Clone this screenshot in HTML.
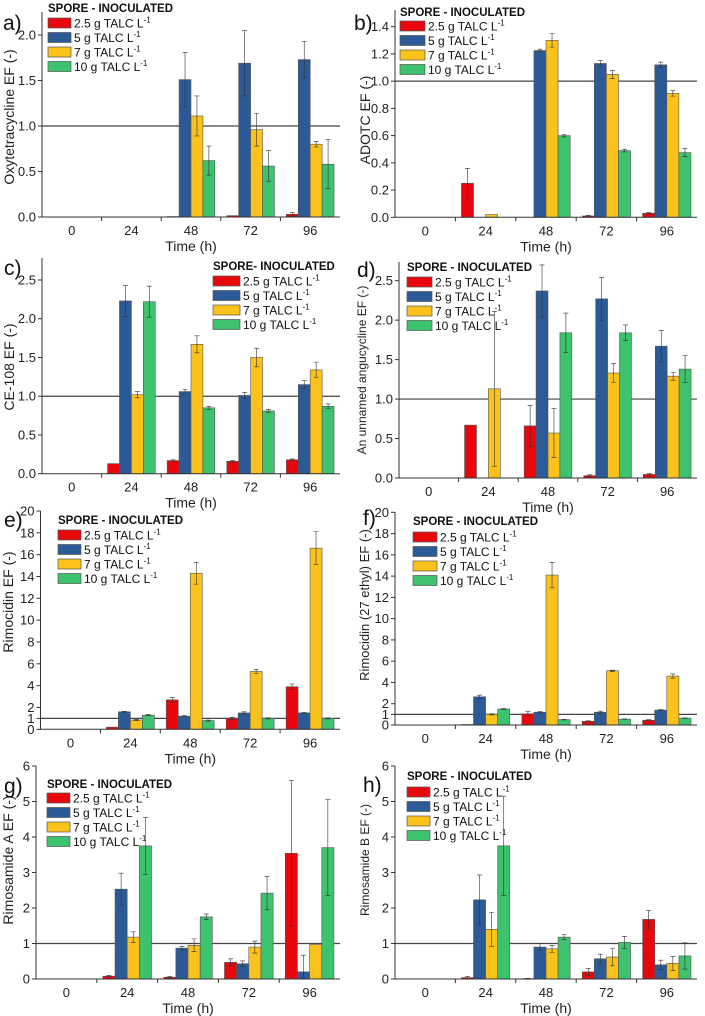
<!DOCTYPE html>
<html><head><meta charset="utf-8"><style>
html,body{margin:0;padding:0;background:#fff;}
svg{display:block;font-family:"Liberation Sans",Arial,sans-serif;}
</style></head><body>
<svg id="fig" width="705" height="1016" viewBox="0 0 705 1016" xmlns="http://www.w3.org/2000/svg"></svg>
<script>
const categories = ["0","24","48","72","96"];
const seriesNames = ["2.5 g TALC L","5 g TALC L","7 g TALC L","10 g TALC L"];
const colors = ["#e8070d","#2c5a96","#fbc21c","#3dc26d"];
// panel a
const aRed=[0,0,0.005,0.015,0.03], aBlue=[0,0,1.51,1.69,1.73], aYel=[0,0,1.11,0.96,0.80], aGrn=[0,0,0.62,0.56,0.58];
const aErr=[[0,0,0,0,0.02],[0,0,0.3,0.36,0.2],[0,0,0.22,0.18,0.03],[0,0,0.16,0.17,0.27]];
// panel b
const bRed=[0,0.25,0,0.01,0.03], bBlue=[0,0,1.225,1.13,1.12], bYel=[0,0.02,1.30,1.05,0.91], bGrn=[0,0,0.60,0.49,0.475];
const bErr=[[0,0.11,0,0.005,0.005],[0,0,0.01,0.02,0.02],[0,0,0.05,0.03,0.02],[0,0,0.01,0.01,0.03]];
// panel c
const cRed=[0,0.13,0.17,0.16,0.18], cBlue=[0,2.23,1.06,1.01,1.15], cYel=[0,1.02,1.67,1.50,1.34], cGrn=[0,2.22,0.85,0.81,0.87];
const cErr=[[0,0,0.01,0.01,0.01],[0,0.2,0.03,0.04,0.05],[0,0.04,0.11,0.12,0.1],[0,0.2,0.02,0.02,0.03]];
// panel d
const dRed=[0,0.67,0.66,0.03,0.045], dBlue=[0,0,2.37,2.27,1.67], dYel=[0,1.13,0.57,1.33,1.29], dGrn=[0,0,1.84,1.84,1.38];
const dErr=[[0,0,0.26,0.01,0.01],[0,0,0.33,0.27,0.2],[0,0.98,0.31,0.12,0.05],[0,0,0.25,0.1,0.17]];
// panel e
const eRed=[0,0.2,2.7,1.0,3.9], eBlue=[0,1.6,1.2,1.5,1.5], eYel=[0,0.85,14.3,5.3,16.6], eGrn=[0,1.3,0.8,1.0,1.0];
const eErr=[[0,0,0.2,0.1,0.25],[0,0.05,0.05,0.1,0.05],[0,0.05,1.0,0.2,1.5],[0,0.05,0.05,0.05,0.05]];
// panel f
const fRed=[0,0.05,1.05,0.35,0.45], fBlue=[0,2.65,1.2,1.2,1.4], fYel=[0,1.0,14.1,5.1,4.6], fGrn=[0,1.5,0.5,0.55,0.65];
const fErr=[[0,0,0.2,0.05,0.05],[0,0.15,0.05,0.1,0.05],[0,0.05,1.2,0.05,0.2],[0,0.05,0.02,0.02,0.02]];
// panel g
const gRed=[0,0.08,0.05,0.47,3.54], gBlue=[0,2.53,0.87,0.43,0.2], gYel=[0,1.18,0.95,0.90,0.97], gGrn=[0,3.75,1.75,2.42,3.70];
const gErr=[[0,0.02,0.02,0.1,2.05],[0,0.45,0.05,0.08,0.47],[0,0.15,0.18,0.17,0],[0,0.8,0.08,0.47,1.35]];
// panel h
const hRed=[0,0.04,0.01,0.2,1.68], hBlue=[0,2.23,0.9,0.57,0.4], hYel=[0,1.4,0.85,0.62,0.44], hGrn=[0,3.75,1.18,1.03,0.65];
const hErr=[[0,0.03,0.01,0.1,0.25],[0,0.7,0.1,0.13,0.13],[0,0.48,0.1,0.25,0.2],[0,1.4,0.07,0.17,0.37]];
// tick labels
const ticksA=[0,0.5,1.0,1.5,2.0], ticksB=[0,0.2,0.4,0.6,0.8,1.0,1.2,1.4], ticksCD=[0,0.5,1.0,1.5,2.0,2.5];
const ticksEF=[0,1,2,4,6,8,10,12,14,16,18,20], ticksGH=[0,1,2,3,4,5,6];

const NS="http://www.w3.org/2000/svg";
const svg=document.getElementById('fig');
function mk(tag,attrs,parent,text){const e=document.createElementNS(NS,tag);for(const k in attrs)e.setAttribute(k,attrs[k]);if(text!==undefined)e.textContent=text;(parent||svg).appendChild(e);return e;}

const panels=[
 {id:'a',L:42,R:340,B:217,T:12,vmax:2.0,ytop:35,ticks:ticksA,dec:1,data:[aRed,aBlue,aYel,aGrn],err:aErr,title:'Oxytetracycline EF (-)',tx:14,ty:117,ts:14,lab:[3,30],leg:[48,8,18,74]},
 {id:'b',L:395,R:697,B:217.3,T:10,vmax:1.4,ytop:26.7,ticks:ticksB,dec:1,data:[bRed,bBlue,bYel,bGrn],err:bErr,title:'ADOTC EF (-)',tx:370,ty:120,ts:14,lab:[354,30],leg:[400,12,21,428]},
 {id:'c',L:42,R:340,B:473.7,T:258,vmax:2.5,ytop:280,ticks:ticksCD,dec:1,data:[cRed,cBlue,cYel,cGrn],err:cErr,title:'CE-108 EF (-)',tx:14,ty:367,ts:14,lab:[4,275],leg:[213,266,276,243],legTitle:'SPORE- INOCULATED'},
 {id:'d',L:399,R:697,B:478,T:262,vmax:2.5,ytop:280.7,ticks:ticksCD,dec:1,data:[dRed,dBlue,dYel,dGrn],err:dErr,title:'An unnamed angucycline EF (-)',tx:366,ty:370,ts:12,lab:[357,277],leg:[407,267,277,435],legTitle:'SPORE  -  INOCULATED'},
 {id:'e',L:40.5,R:340,B:729.3,T:511,vmax:20,ytop:511,ticks:ticksEF,dec:0,data:[eRed,eBlue,eYel,eGrn],err:eErr,title:'Rimocidin EF (-)',tx:13,ty:602,ts:14,lab:[4,527],leg:[58,520,530,84]},
 {id:'f',L:395,R:697,B:725,T:512,vmax:20,ytop:512.3,ticks:ticksEF,dec:0,data:[fRed,fBlue,fYel,fGrn],err:fErr,title:'Rimocidin (27 ethyl) EF (-)',tx:369,ty:605,ts:13,lab:[363,525],leg:[413,521,532,440]},
 {id:'g',L:36,R:340,B:979,T:766,vmax:6,ytop:766,ticks:ticksGH,dec:0,data:[gRed,gBlue,gYel,gGrn],err:gErr,title:'Rimosamide A EF (-)',tx:13,ty:860,ts:14,lab:[4,793],leg:[47,784,793,73]},
 {id:'h',L:395,R:697,B:979,T:766,vmax:6,ytop:766,ticks:ticksGH,dec:0,data:[hRed,hBlue,hYel,hGrn],err:hErr,title:'Rimosamide B EF (-)',tx:369,ty:860,ts:12,lab:[363,792],leg:[407,776,787,433]}
];

panels.forEach(p=>{
 const g=mk('g',{});
 
 
 const unit=(p.B-p.ytop)/p.vmax;
 const y=v=>p.B-v*unit;
 const step=(p.R-p.L)/categories.length;
 const xc=i=>p.L+step*(i+0.5);
 const bw=step*0.2;
 const ref=mk('line',{x1:p.L,x2:p.R,y1:y(1),y2:y(1),stroke:'#444','stroke-width':1.2},g);
 
 
 p.data.forEach((ser,s)=>{
  ser.forEach((v,i)=>{
   if(v<=0)return;
   const x=xc(i)-2*bw+s*bw;
   const r=mk('rect',{x:x,y:y(v),width:bw,height:Math.max(0.6,y(0)-y(v)),fill:colors[s],stroke:'#555','stroke-width':0.6},g);
   
   
   const e=p.err[s][i];
   if(e>0){
    const cx=x+bw/2;
    const el=mk('path',{d:`M${cx},${y(v+e)}V${y(Math.max(0,v-e))}M${cx-2.5},${y(v+e)}H${cx+2.5}M${cx-2.5},${y(Math.max(0,v-e))}H${cx+2.5}`,stroke:'#333','stroke-width':0.6,fill:'none'},g);
    
    
   }
  });
 });
 const ax=mk('path',{d:`M${p.L},${p.T}V${p.B}H${p.R}`,stroke:'#333','stroke-width':1,fill:'none'},g);
 
 
 p.ticks.forEach(t=>{
  mk('line',{x1:p.L-4,x2:p.L,y1:y(t),y2:y(t),stroke:'#333','stroke-width':1},g);
  const tl=mk('text',{x:p.L-6,y:y(t)+4.5,'text-anchor':'end','font-size':13,fill:'#222'},g,t.toFixed(p.dec));
  
  
 });
 categories.forEach((c,i)=>{
  if(i>0)mk('line',{x1:p.L+step*i,x2:p.L+step*i,y1:p.B,y2:p.B+4,stroke:'#333','stroke-width':1},g);
  const tl=mk('text',{x:xc(i),y:p.B+18,'text-anchor':'middle','font-size':13,fill:'#222'},g,c);
  
  
 });
 const xt=mk('text',{x:(p.L+p.R)/2,y:p.B+34,'text-anchor':'middle','font-size':14,fill:'#222'},g,'Time (h)');
 
 
 const yt=mk('text',{x:p.tx,y:p.ty,'text-anchor':'middle','font-size':p.ts,fill:'#222',transform:`rotate(-90 ${p.tx} ${p.ty})`},g,p.title);
 
 
 const pl=mk('text',{x:p.lab[0],y:p.lab[1],'font-size':21,fill:'#111'},g,p.id+')');
 
 
 const lg=mk('g',{},g);
 
 
 const [lx,lty,ly0,tx]=p.leg;
 mk('text',{x:lx,y:lty+4,'font-size':11.5,'font-weight':'bold',fill:'#111'},lg,p.legTitle||'SPORE - INOCULATED');
 seriesNames.forEach((n,s)=>{
  const yy=ly0+s*14.5;
  const sw=mk('rect',{x:lx,y:yy,width:tx-lx-3,height:10,fill:colors[s],stroke:'#555','stroke-width':0.7},lg);
  
  
  const t=mk('text',{x:tx,y:yy+9.5,'font-size':12,fill:'#111'},lg,n);
  mk('tspan',{'font-size':8,dy:-5},t,'-1');
  
  
 });
});
</script>
</body></html>
